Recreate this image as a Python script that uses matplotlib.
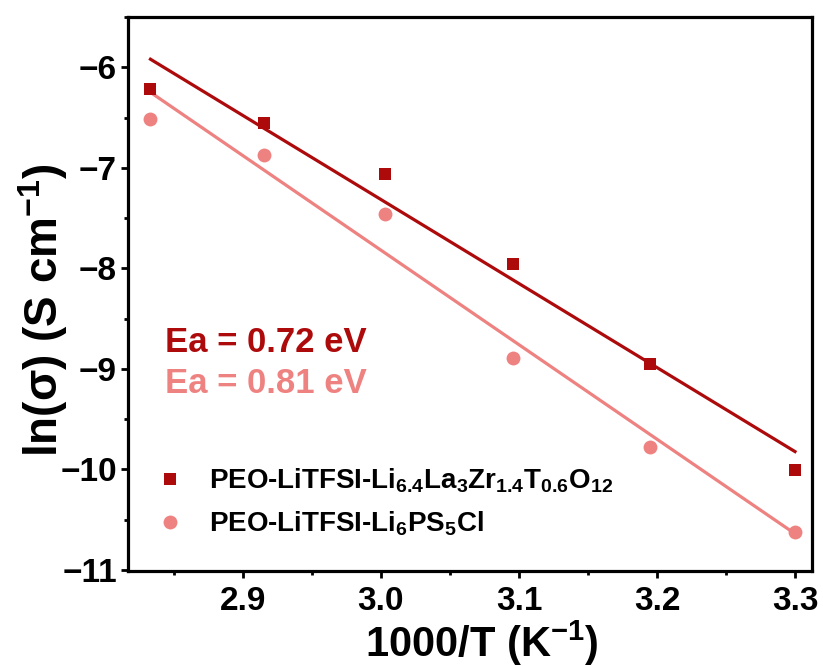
import numpy as np
import matplotlib
matplotlib.use("Agg")
import matplotlib.pyplot as plt

# -------------------------------------------------------------------
# Arrhenius data: ln(conductivity) vs 1000/T
# -------------------------------------------------------------------
inv_temp = [2.833, 2.915, 3.003, 3.096, 3.195, 3.300]

ln_sigma_llzto = [-6.22, -6.55, -7.06, -7.96, -8.95, -10.01]
ln_sigma_lpscl = [-6.51, -6.87, -7.46, -8.89, -9.78, -10.62]

ea_llzto = 0.72  # eV
ea_lpscl = 0.81  # eV

label_llzto = r"PEO-LiTFSI-Li$_{6.4}$La$_3$Zr$_{1.4}$T$_{0.6}$O$_{12}$"
label_lpscl = r"PEO-LiTFSI-Li$_6$PS$_5$Cl"

DARK = "#AD0A0C"
LIGHT = "#EE8281"
K_B = 8.617e-5  # eV/K

plt.rcParams["font.family"] = ["Liberation Sans", "DejaVu Sans"]
plt.rcParams["font.weight"] = "bold"
plt.rcParams["axes.labelweight"] = "bold"
plt.rcParams["mathtext.fontset"] = "custom"
plt.rcParams["mathtext.bf"] = "Liberation Sans:bold"
plt.rcParams["mathtext.rm"] = "Liberation Sans:bold"
plt.rcParams["mathtext.default"] = "bf"


def arrhenius_line(x, y, ea):
    """Straight line with slope fixed by Ea, passing through the data centroid."""
    x = np.asarray(x)
    y = np.asarray(y)
    slope = -ea / (K_B * 1000.0)
    intercept = y.mean() - slope * x.mean()
    return x, slope * x + intercept


fig = plt.figure(figsize=(8.23, 6.66), dpi=100)
ax = fig.add_axes([0.1555, 0.1426, 0.8311, 0.8319])

xf, yf = arrhenius_line(inv_temp, ln_sigma_llzto, ea_llzto)
ax.plot(xf, yf, color=DARK, lw=2.3, zorder=2)
xf, yf = arrhenius_line(inv_temp, ln_sigma_lpscl, ea_lpscl)
ax.plot(xf, yf, color=LIGHT, lw=2.3, zorder=2)

ax.plot(inv_temp, ln_sigma_llzto, "s", color=DARK, ms=9, mew=0,
        label=label_llzto, zorder=3)
ax.plot(inv_temp, ln_sigma_lpscl, "o", color=LIGHT, ms=10, mew=0,
        label=label_lpscl, zorder=3)

ax.set_xlim(2.8167, 3.3123)
ax.set_ylim(-11.01, -5.52)
ax.set_xticks([2.9, 3.0, 3.1, 3.2, 3.3])
ax.set_xticks(np.arange(2.85, 3.31, 0.1), minor=True)
ax.set_xticklabels(["2.9", "3.0", "3.1", "3.2", "3.3"])
ax.set_yticks([-11, -10, -9, -8, -7, -6])
ax.set_yticks(np.arange(-10.5, -5.4, 1.0), minor=True)
ax.set_yticklabels(["\u221211", "\u221210", "\u22129", "\u22128", "\u22127", "\u22126"])

ax.tick_params(which="major", direction="out", length=5, width=2,
               labelsize=24, pad=3)
ax.tick_params(which="minor", direction="out", length=3, width=2)
ax.tick_params(axis="x", which="major", pad=6)
for sp in ax.spines.values():
    sp.set_linewidth(2.3)

ax.set_xlabel(r"1000/T (K$^{\mathbf{-1}}$)", fontsize=30)
ax.set_ylabel(r"ln(σ) (S cm$^{\mathbf{-1}}$)", fontsize=33)
ax.xaxis.set_label_coords(0.517, -0.085)
ax.yaxis.set_label_coords(-0.085, 0.47)

ax.text(0.054, 0.412, f"Ea = {ea_llzto:.2f} eV", transform=ax.transAxes,
        color=DARK, fontsize=25, va="center", ha="left")
ax.text(0.054, 0.338, f"Ea = {ea_lpscl:.2f} eV", transform=ax.transAxes,
        color=LIGHT, fontsize=25, va="center", ha="left")

ax.legend(loc="lower left", bbox_to_anchor=(0.0, 0.02), frameon=False,
          fontsize=20, handletextpad=0.7, handlelength=1.4,
          labelspacing=0.5, borderaxespad=0.4)

fig.savefig("out.png", dpi=100)
